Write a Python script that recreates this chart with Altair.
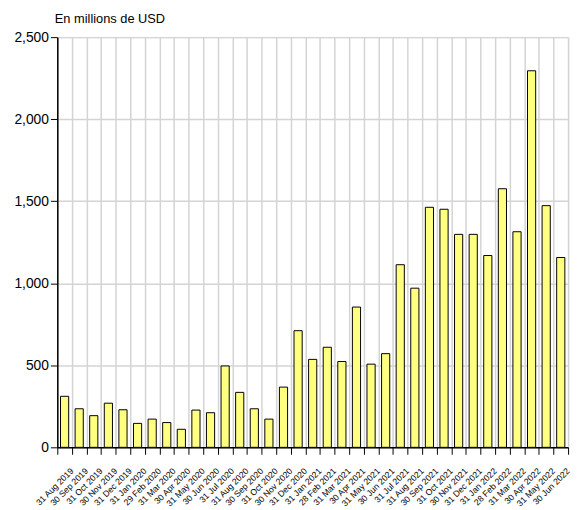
import altair as alt
import pandas as pd

dates = [
    "31 Aug 2019", "30 Sep 2019", "31 Oct 2019", "30 Nov 2019", "31 Dec 2019",
    "31 Jan 2020", "29 Feb 2020", "31 Mar 2020", "30 Apr 2020", "31 May 2020",
    "30 Jun 2020", "31 Jul 2020", "31 Aug 2020", "30 Sep 2020", "31 Oct 2020",
    "30 Nov 2020", "31 Dec 2020", "31 Jan 2021", "28 Feb 2021", "31 Mar 2021",
    "30 Apr 2021", "31 May 2021", "30 Jun 2021", "31 Jul 2021", "31 Aug 2021",
    "30 Sep 2021", "31 Oct 2021", "30 Nov 2021", "31 Dec 2021", "31 Jan 2022",
    "28 Feb 2022", "31 Mar 2022", "30 Apr 2022", "31 May 2022", "30 Jun 2022",
]
values = [
    311, 235, 193, 269, 229,
    146, 172, 151, 110, 227,
    211, 496, 335, 235, 172,
    367, 711, 536, 610, 523,
    855, 507, 571, 1113, 970,
    1463, 1451, 1298, 1298, 1169,
    1576, 1314, 2295, 1473, 1157,
]
y_ticks = [0, 500, 1000, 1500, 2000, 2500]
title_text = "En millions de USD"

df = pd.DataFrame({"date": dates, "value": values})

FONT = "Liberation Sans"

chart = (
    alt.Chart(df)
    .mark_bar(
        width=alt.RelativeBandSize(0.56),
        fill="#FFFF80",
        stroke="black",
        strokeWidth=1,
    )
    .encode(
        x=alt.X(
            "date:N",
            sort=dates,
            scale=alt.Scale(paddingInner=0, paddingOuter=0),
            axis=alt.Axis(
                title=None,
                labelAngle=-45,
                labelAlign="right",
                labelBaseline="middle",
                labelFont=FONT,
                labelFontSize=8.8,
                labelColor="black",
                labelPadding=15,
                labelOffset=7,
                labelOverlap=False,
                tickBand="extent",
                tickSize=7,
                tickColor="black",
                grid=True,
                gridColor="#D4D4D4",
                gridWidth=1.5,
                domain=True,
                domainColor="black",
                domainWidth=1.5,
            ),
        ),
        y=alt.Y(
            "value:Q",
            scale=alt.Scale(domain=[0, 2500], nice=False),
            axis=alt.Axis(
                values=y_ticks,
                format=",.0f",
                title=title_text,
                titleAngle=0,
                titleAlign="left",
                titleBaseline="middle",
                titleX=-3,
                titleY=-19,
                titleFont=FONT,
                titleFontSize=13,
                titleFontWeight="normal",
                titleColor="black",
                labelFont=FONT,
                labelFontSize=14,
                labelColor="black",
                labelPadding=2,
                tickSize=7,
                tickColor="black",
                grid=True,
                gridColor="#D4D4D4",
                gridWidth=1.5,
                domainColor="black",
                domainWidth=1.5,
            ),
        ),
    )
    .properties(
        width=518,
        height=416,
        autosize=alt.AutoSizeParams(type="none"),
        padding={"left": 50, "top": 26, "right": 5, "bottom": 60},
    )
    .configure_view(stroke="black", strokeWidth=2)
    .configure(background="white")
)

chart.save("out.html", embed_options={"renderer": "svg", "actions": False})
